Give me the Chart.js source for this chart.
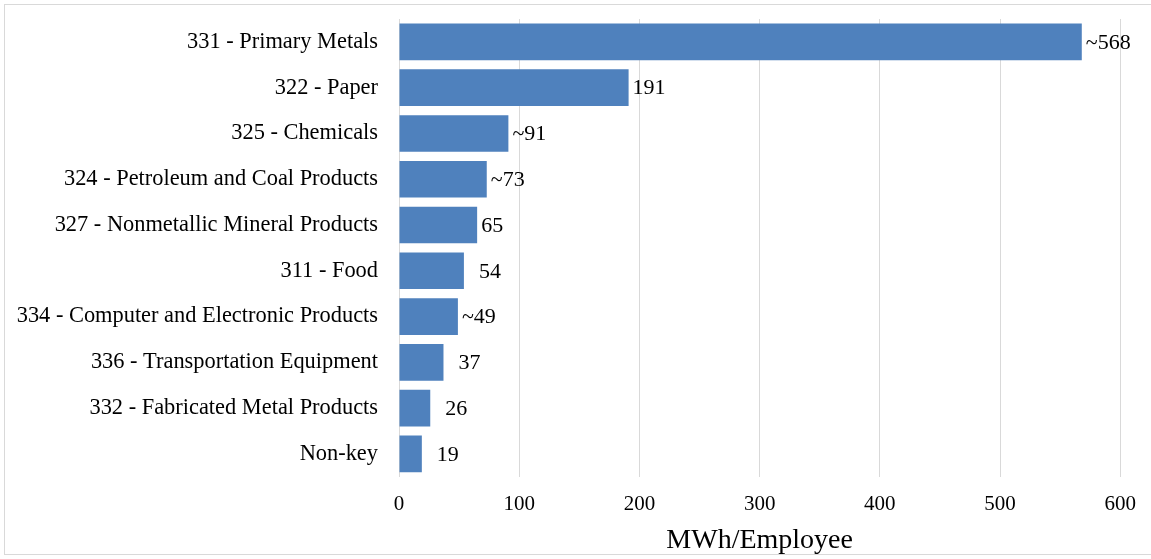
<!DOCTYPE html>
<html>
<head>
<meta charset="utf-8">
<script src="https://cdn.jsdelivr.net/npm/chart.js@4/dist/chart.umd.min.js"></script>
<style>
  body { margin: 0; background: #fff; }
  #wrap { position: absolute; left: 0; top: 0; width: 1151px; height: 559px; overflow: hidden; }
  #frame { position: absolute; left: 4px; top: 4px; width: 1160px; height: 549px; border: 1px solid #d9d9d9; }
  canvas { position: absolute; left: 0; top: 0; }
</style>
</head>
<body>
<div id="wrap">
  <div id="frame"></div>
  <canvas id="chart" width="1151" height="559"></canvas>
</div>
<script>
// industries, top to bottom
var categories = [
  "331 - Primary Metals",
  "322 - Paper",
  "325 - Chemicals",
  "324 - Petroleum and Coal Products",
  "327 - Nonmetallic Mineral Products",
  "311 - Food",
  "334 - Computer and Electronic Products",
  "336 - Transportation Equipment",
  "332 - Fabricated Metal Products",
  "Non-key"
];
var values = [568, 191, 91, 73, 65, 54, 49, 37, 26, 19];
var valueLabels = ["~568", "191", "~91", "~73", "65", "  54", "~49", "  37", "  26", "  19"];
var xTicks = [0, 100, 200, 300, 400, 500, 600];

var serif = "'Liberation Serif', 'Times New Roman', serif";

// draw the value text just past the end of each bar
var barLabels = {
  id: "barLabels",
  afterDatasetsDraw: function(chart) {
    var ctx = chart.ctx;
    var meta = chart.getDatasetMeta(0);
    ctx.save();
    ctx.font = "22px " + serif;
    ctx.fillStyle = "#000";
    ctx.textBaseline = "middle";
    ctx.textAlign = "left";
    meta.data.forEach(function(bar, i) {
      ctx.fillText(valueLabels[i], bar.x + 4, bar.y + 1);
    });
    ctx.restore();
  }
};

new Chart(document.getElementById("chart"), {
  type: "bar",
  data: {
    labels: categories,
    datasets: [{
      data: values,
      backgroundColor: "#4f81bd",
      borderWidth: 0,
      categoryPercentage: 0.8,
      barPercentage: 1.0
    }]
  },
  options: {
    indexAxis: "y",
    responsive: false,
    animation: false,
    layout: { padding: { left: 0, right: 27, top: 19, bottom: 2 } },
    plugins: { legend: { display: false }, tooltip: { enabled: false } },
    scales: {
      x: {
        min: 0,
        max: 600,
        afterBuildTicks: function(axis) {
          axis.ticks = xTicks.map(function(v) { return { value: v }; });
        },
        grid: { color: "#d9d9d9", drawTicks: false },
        border: { display: false },
        ticks: { color: "#000", font: { family: serif, size: 21 }, padding: 15 },
        title: {
          display: true,
          text: "MWh/Employee",
          color: "#000",
          font: { family: serif, size: 28, lineHeight: 1 },
          padding: { top: -5, bottom: 2 }
        }
      },
      y: {
        grid: { display: false, drawTicks: false },
        border: { display: false },
        afterFit: function(axis) {
          axis.width = 399;
          axis.paddingTop = 0;
          axis.paddingBottom = 0;
        },
        ticks: { color: "#000", font: { family: serif, size: 22.4 }, padding: 21 }
      }
    }
  },
  plugins: [barLabels]
});
</script>
</body>
</html>
